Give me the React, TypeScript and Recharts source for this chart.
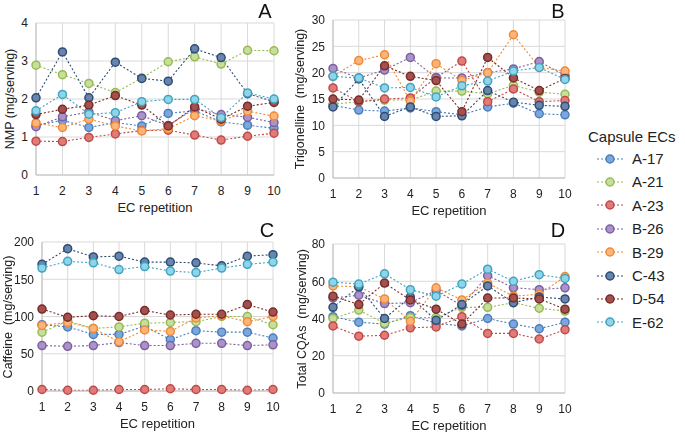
import React from "react";
import { LineChart, Line, XAxis, YAxis, CartesianGrid } from "recharts";

const reps = [1, 2, 3, 4, 5, 6, 7, 8, 9, 10];
const capsules = ["A-17", "A-21", "A-23", "B-26", "B-29", "C-43", "D-54", "E-62"];

// per-capsule values, one list per EC repetition 1..10
const nmp: Record<string, number[]> = {
  "A-17": [1.3, 1.44, 1.25, 1.38, 1.29, 1.62, 1.69, 1.4, 1.31, 1.23],
  "A-21": [2.89, 2.64, 2.41, 2.17, 2.55, 2.98, 3.11, 2.92, 3.28, 3.27],
  "A-23": [0.89, 0.88, 0.99, 1.08, 1.17, 1.18, 1.05, 0.92, 1.02, 1.1],
  "B-26": [1.27, 1.53, 1.66, 1.43, 1.56, 1.3, 1.75, 1.59, 1.52, 1.38],
  "B-29": [1.37, 1.25, 1.47, 1.29, 1.16, 1.22, 1.56, 1.42, 1.68, 1.55],
  "C-43": [2.03, 3.24, 2.03, 2.97, 2.54, 2.47, 3.32, 3.09, 2.14, 1.93],
  "D-54": [1.59, 1.73, 1.84, 2.09, 1.84, 1.29, 1.79, 1.47, 1.81, 1.91],
  "E-62": [1.69, 2.12, 1.6, 1.64, 1.93, 1.99, 1.99, 1.51, 2.16, 2.0],
};

const trigonelline: Record<string, number[]> = {
  "A-17": [13.8, 12.9, 12.7, 13.3, 12.6, 12.0, 13.5, 14.2, 12.2, 12.0],
  "A-21": [14.0, 14.5, 14.8, 14.8, 16.5, 16.5, 16.0, 17.6, 16.3, 15.9],
  "A-23": [17.1, 14.5, 15.0, 15.2, 19.1, 22.2, 14.5, 16.9, 14.5, 14.7],
  "B-26": [20.8, 19.0, 20.5, 22.9, 19.0, 19.0, 20.0, 20.7, 22.1, 19.5],
  "B-29": [19.3, 22.3, 23.4, 14.6, 21.7, 18.5, 20.0, 27.2, 21.0, 20.3],
  "C-43": [13.5, 18.8, 11.7, 13.5, 11.7, 11.8, 16.6, 14.4, 13.8, 13.6],
  "D-54": [15.0, 14.8, 21.3, 19.3, 18.5, 12.6, 22.9, 19.0, 16.6, 18.9],
  "E-62": [19.3, 19.0, 17.1, 17.2, 15.4, 17.5, 18.4, 20.3, 21.0, 18.7],
};

const caffeine: Record<string, number[]> = {
  "A-17": [89, 86, 76, 76, 87, 69, 81, 79, 79, 71],
  "A-21": [79, 94, 84, 86, 91, 92, 93, 100, 100, 89],
  "A-23": [2, 1, 1, 2, 2, 3, 2, 2, 1, 2],
  "B-26": [61, 60, 61, 65, 61, 61, 64, 64, 61, 62],
  "B-29": [88, 92, 84, 66, 82, 80, 98, 101, 93, 100],
  "C-43": [170, 191, 180, 181, 173, 173, 172, 168, 181, 183],
  "D-54": [110, 99, 101, 100, 108, 102, 103, 103, 116, 106],
  "E-62": [165, 174, 172, 163, 167, 161, 159, 165, 170, 173],
};

const cqas: Record<string, number[]> = {
  "A-17": [41, 38, 37, 41.5, 37.5, 36, 40, 37, 34.5, 38],
  "A-21": [40, 44.5, 37.5, 40.5, 40.5, 46, 46, 48.5, 45.5, 44],
  "A-23": [36, 30.5, 31, 35, 35.5, 41, 32, 32, 29, 34],
  "B-26": [51, 52.5, 48, 48.5, 55, 47, 63, 56.5, 55.5, 56.5],
  "B-29": [57.5, 57, 50.5, 38.5, 56.5, 50, 59, 52, 53, 62.5],
  "C-43": [46, 57, 40, 51.5, 39, 47.5, 57.5, 48.5, 51.5, 50.5],
  "D-54": [52, 47.5, 59, 50, 45, 37, 51, 51, 50.5, 45],
  "E-62": [59.5, 58.5, 64, 55.5, 52, 58.5, 66.5, 60, 63.5, 61.5],
};

const nmpTicks = [0, 1, 2, 3, 4];
const trigTicks = [0, 5, 10, 15, 20, 25, 30];
const caffTicks = [0, 50, 100, 150, 200];
const cqaTicks = [0, 20, 40, 60, 80];

const colors: Record<string, { stroke: string; fill: string }> = {
  "A-17": { stroke: "#4a7ebb", fill: "#7ba7de" },
  "A-21": { stroke: "#98b954", fill: "#c6df9c" },
  "A-23": { stroke: "#be4b48", fill: "#e07b78" },
  "B-26": { stroke: "#7d60a0", fill: "#a993c9" },
  "B-29": { stroke: "#f08a34", fill: "#fbb57c" },
  "C-43": { stroke: "#2c4d75", fill: "#6984ad" },
  "D-54": { stroke: "#772c2a", fill: "#a4504d" },
  "E-62": { stroke: "#3fa5c0", fill: "#8fd4e8" },
};

const font = "'Liberation Sans', Arial, sans-serif";

function toRows(values: Record<string, number[]>) {
  return reps.map((r, i) => {
    const row: any = { rep: r };
    capsules.forEach((c) => (row[c] = values[c][i]));
    return row;
  });
}

function Panel(props: any) {
  const { left, top, width, height, margin, yWidth, values, ticks, yTitle, letter, yTitleX, letterX, letterY } = props;
  const data = toRows(values);
  const plotTop = top + margin.top;
  const plotBottom = top + height - 40;
  const plotLeft = left + yWidth;
  const plotRight = left + width - margin.right;
  return (
    <>
      <div style={{ position: "absolute", left, top }}>
        <LineChart width={width} height={height} data={data} margin={{ top: margin.top, right: margin.right, left: 0, bottom: 0 }}>
          <CartesianGrid stroke="#d9d9d9" strokeWidth={1} />
          <XAxis
            dataKey="rep"
            type="number"
            domain={[1, 10]}
            ticks={reps}
            interval={0}
            height={40}
            tickLine={false}
            tickMargin={5}
            axisLine={{ stroke: "#bfbfbf" }}
            tick={{ fill: "#222", fontSize: 12, fontFamily: font }}
          />
          <YAxis
            type="number"
            domain={[ticks[0], ticks[ticks.length - 1]]}
            ticks={ticks}
            interval={0}
            width={yWidth}
            tickLine={false}
            axisLine={{ stroke: "#bfbfbf" }}
            tick={{ fill: "#222", fontSize: 12, fontFamily: font }}
          />
          {capsules.map((c) => (
            <Line
              key={c}
              dataKey={c}
              stroke={colors[c].stroke}
              strokeWidth={1.1}
              strokeDasharray="2 2"
              dot={{ r: 4, fill: colors[c].fill, stroke: colors[c].stroke, strokeWidth: 1.5, strokeDasharray: "none" }}
              isAnimationActive={false}
            />
          ))}
        </LineChart>
      </div>
      <div
        style={{
          position: "absolute",
          left: yTitleX,
          top: (plotTop + plotBottom) / 2,
          transform: "translate(-50%, -50%) rotate(-90deg)",
          whiteSpace: "pre",
          fontSize: 12.5,
          color: "#222",
        }}
      >
        {yTitle}
      </div>
      <div
        style={{
          position: "absolute",
          left: (plotLeft + plotRight) / 2,
          top: plotBottom + 32,
          transform: "translate(-50%, -50%)",
          whiteSpace: "nowrap",
          fontSize: 13,
          color: "#222",
        }}
      >
        EC repetition
      </div>
      <div
        style={{
          position: "absolute",
          left: letterX,
          top: letterY,
          transform: "translate(-50%, -50%)",
          fontSize: 20,
          color: "#111",
        }}
      >
        {letter}
      </div>
    </>
  );
}

function CapsuleLegend() {
  return (
    <div style={{ position: "absolute", left: 588, top: 128 }}>
      <div style={{ fontSize: 15, color: "#222", whiteSpace: "nowrap" }}>Capsule ECs</div>
      {capsules.map((c, i) => (
        <div key={c} style={{ position: "absolute", left: 9, top: 22 + i * 23.4, display: "flex", alignItems: "center", whiteSpace: "nowrap" }}>
          <svg width={27} height={12}>
            <line x1={0} y1={6} x2={27} y2={6} stroke={colors[c].stroke} strokeWidth={1.1} strokeDasharray="2 2" />
            <circle cx={13} cy={6} r={4} fill={colors[c].fill} stroke={colors[c].stroke} strokeWidth={1.5} />
          </svg>
          <span style={{ marginLeft: 8, fontSize: 15, color: "#222" }}>{c}</span>
        </div>
      ))}
    </div>
  );
}

export default function App() {
  return (
    <div style={{ position: "fixed", left: 0, top: 0, width: 685, height: 432, background: "#fff", fontFamily: font }}>
      <Panel left={0} top={0} width={285} height={215} margin={{ top: 23, right: 11 }} yWidth={36}
        values={nmp} ticks={nmpTicks} yTitle="NMP (mg/serving)" letter="A" yTitleX={10} letterX={265} letterY={11} />
      <Panel left={280} top={0} width={295} height={218} margin={{ top: 20, right: 10 }} yWidth={53}
        values={trigonelline} ticks={trigTicks} yTitle="Trigonelline  (mg/serving)" letter="B" yTitleX={300} letterX={558} letterY={11} />
      <Panel left={0} top={215} width={285} height={216} margin={{ top: 27, right: 12 }} yWidth={42}
        values={caffeine} ticks={caffTicks} yTitle="Caffeine  (mg/serving)" letter="C" yTitleX={8} letterX={267} letterY={230} />
      <Panel left={280} top={215} width={295} height={218} margin={{ top: 29, right: 10 }} yWidth={53}
        values={cqas} ticks={cqaTicks} yTitle="Total CQAs  (mg/serving)" letter="D" yTitleX={302} letterX={558} letterY={230} />
      <CapsuleLegend />
    </div>
  );
}
